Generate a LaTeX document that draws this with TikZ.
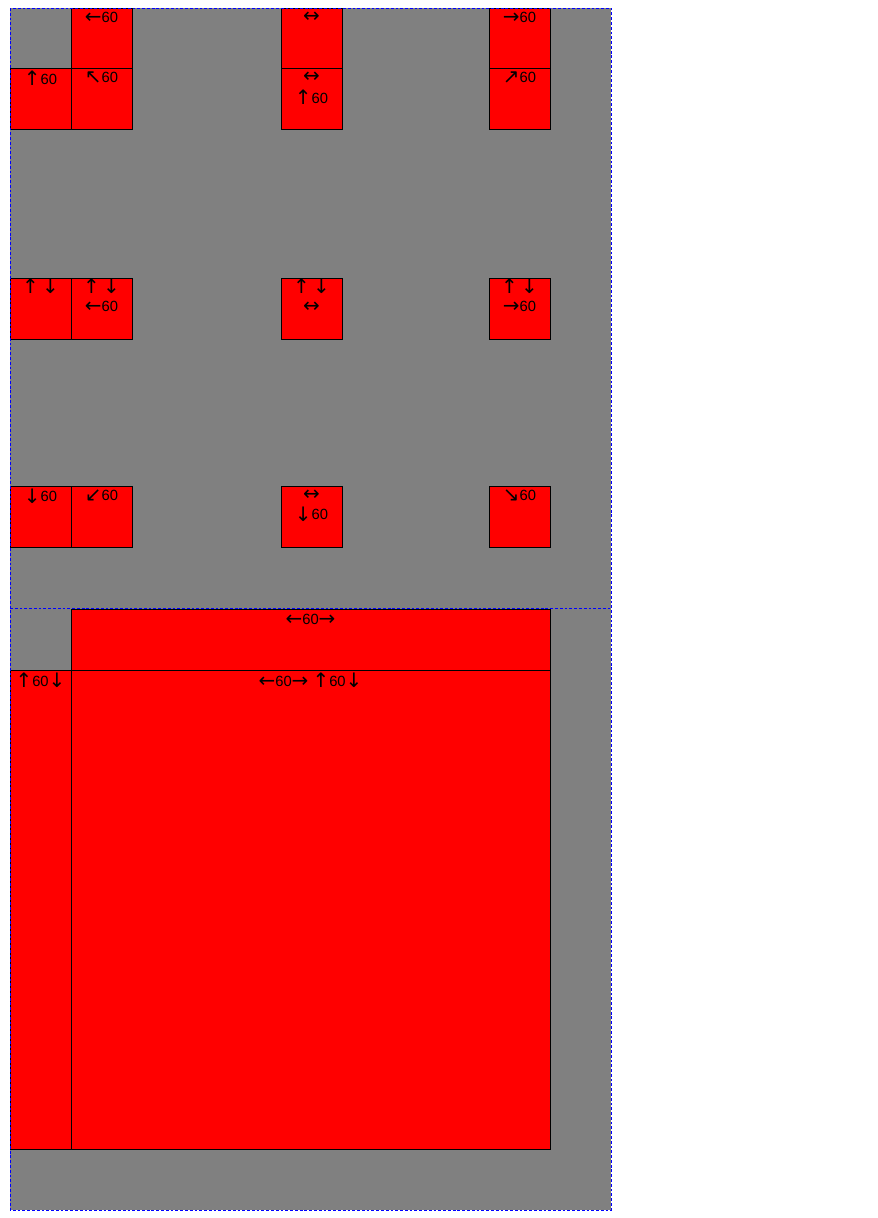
\documentclass[tikz,border=0pt]{standalone}
\usepackage{fontspec}
\setmainfont{Liberation Sans}
\newfontfamily\arw[Scale=1.35]{DejaVu Sans}
\newcommand\tip[1]{\raisebox{-0.9pt}{\arw #1}}
\usepackage{xcolor}
\definecolor{cellRed}{HTML}{FF0000}
\definecolor{paneGray}{HTML}{808080}
\definecolor{guideBlue}{HTML}{0000FF}
\tikzset{
  cell/.style={fill=cellRed, draw=black, line width=0.7pt},
  guide/.style={draw=guideBlue, line width=0.7pt, dash pattern=on 2pt off 1.4pt},
  lab/.style={inner sep=0pt, font=\fontsize{10.5}{12}\selectfont}
}

\begin{document}
\begin{tikzpicture}[x=0.025cm, y=-0.025cm]
  \useasboundingbox (0,0) rectangle (878,1218);
  \fill[white] (0,0) rectangle (878,1218);
  % grid pane
  \fill[paneGray] (10,8) rectangle (611,1210);
  % first row of cells
  \draw[cell] (71,8) rectangle (132,68);
  \draw[cell] (10,68) rectangle (71,129);
  \draw[cell] (71,68) rectangle (132,129);
  \draw[cell] (281,8) rectangle (342,68);
  \draw[cell] (281,68) rectangle (342,129);
  \draw[cell] (489,8) rectangle (550,68);
  \draw[cell] (489,68) rectangle (550,129);
  \node[lab] (rowAa) at (101.5,18) {\tip{←}60};
  \node[lab] (rowAb) at (40.5,78) {\tip{↑}60};
  \node[lab] (rowAc) at (101.5,78) {\tip{↖}60};
  \node[lab] (rowAd) at (311.5,17) {\tip{↔}};
  \node[lab] (rowAe) at (311.5,77) {\tip{↔}};
  \node[lab] (rowAf) at (311.5,97) {\tip{↑}60};
  \node[lab] (rowAg) at (519.5,18) {\tip{→}60};
  \node[lab] (rowAh) at (519.5,78) {\tip{↗}60};
  % second row of cells
  \draw[cell] (10,278) rectangle (71,339);
  \draw[cell] (71,278) rectangle (132,339);
  \draw[cell] (281,278) rectangle (342,339);
  \draw[cell] (489,278) rectangle (550,339);
  \node[lab] (rowBa) at (40.5,286) {\tip{↑\,↓}};
  \node[lab] (rowBb) at (101.5,286) {\tip{↑\,↓}};
  \node[lab] (rowBc) at (101.5,307) {\tip{←}60};
  \node[lab] (rowBd) at (311.5,286) {\tip{↑\,↓}};
  \node[lab] (rowBe) at (311.5,307) {\tip{↔}};
  \node[lab] (rowBf) at (519.5,286) {\tip{↑\,↓}};
  \node[lab] (rowBg) at (519.5,307) {\tip{→}60};
  % third row of cells
  \draw[cell] (10,486) rectangle (71,547);
  \draw[cell] (71,486) rectangle (132,547);
  \draw[cell] (281,486) rectangle (342,547);
  \draw[cell] (489,486) rectangle (550,547);
  \node[lab] (rowCa) at (40.5,496) {\tip{↓}60};
  \node[lab] (rowCb) at (101.5,496) {\tip{↙}60};
  \node[lab] (rowCc) at (311.5,495) {\tip{↔}};
  \node[lab] (rowCd) at (311.5,514) {\tip{↓}60};
  \node[lab] (rowCe) at (519.5,496) {\tip{↘}60};
  % the big spanning cells
  \draw[cell] (71,609) rectangle (550,670);
  \draw[cell] (10,670) rectangle (71,1149);
  \draw[cell] (71,670) rectangle (550,1149);
  \node[lab] (bigTop) at (310.5,620) {\tip{←}60\tip{→}};
  \node[lab] (bigLeft) at (40.5,680) {\tip{↑}60\tip{↓}};
  \node[lab] (bigMain) at (310.5,680) {\tip{←}60\tip{→} \tip{↑}60\tip{↓}};
  % pane guides
  \draw[guide] (10,8) rectangle (611,1210);
  \draw[guide] (10,608) -- (611,608);
\end{tikzpicture}
\end{document}
